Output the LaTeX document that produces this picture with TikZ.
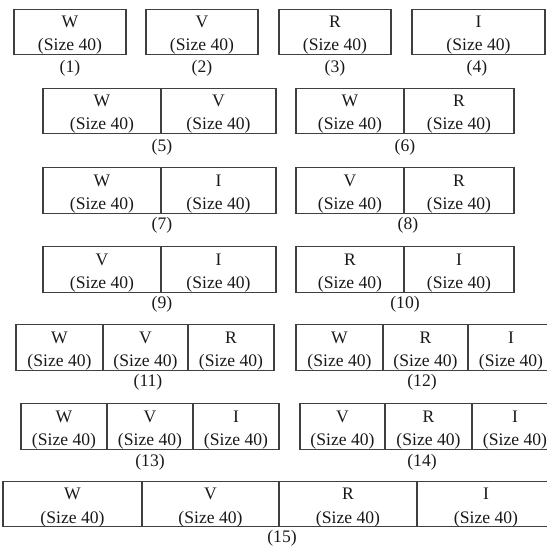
\documentclass[tikz,border=0pt]{standalone}
\usepackage{fontspec}
\setmainfont{Liberation Serif}
\usetikzlibrary{positioning}

\newcommand{\px}{0.75pt}
\newcommand{\blk}[1]{\rule{0pt}{14pt}#1\\(Size 40)}
\tikzset{
  cell/.style={draw=black!75, line width=0.9pt, align=center, inner sep=0pt, outer sep=0pt,
    minimum height=44*\px,
    font=\fontsize{13.2}{17.3}\selectfont, text=black!90},
  lbl/.style={inner sep=0pt, font=\fontsize{13.2}{16.5}\selectfont, text=black!90}
}

\begin{document}
\begin{tikzpicture}[x=\px, y=-\px]
  \useasboundingbox (0,0) rectangle (547,547);
  \clip (0,0) rectangle (547,547);
  % single blocks
  \node[cell, minimum width=112*\px] (c1)  at (70,32)    {\blk{W}};
  \node[cell, minimum width=112*\px] (c2)  at (202,32)   {\blk{V}};
  \node[cell, minimum width=112*\px] (c3)  at (335,32)   {\blk{R}};
  \node[cell, minimum width=133*\px] (c4)  at (478.5,32) {\blk{I}};
  \node[lbl] (l1) at (70,68)  {(1)};
  \node[lbl] (l2) at (202,68) {(2)};
  \node[lbl] (l3) at (335,68) {(3)};
  \node[lbl] (l4) at (477,68) {(4)};

  % pairs
  \node[cell, minimum width=118*\px] (c5a)  at (102,111)   {\blk{W}};
  \node[cell, minimum width=115*\px] (c5b)  at (218.5,111) {\blk{V}};
  \node[cell, minimum width=108*\px] (c6a)  at (350,111)   {\blk{W}};
  \node[cell, minimum width=110*\px] (c6b)  at (459,111)   {\blk{R}};
  \node[lbl] (l5) at (162,147) {(5)};
  \node[lbl] (l6) at (405,147) {(6)};

  \node[cell, minimum width=118*\px] (c7a)  at (102,190.5)   {\blk{W}};
  \node[cell, minimum width=115*\px] (c7b)  at (218.5,190.5) {\blk{I}};
  \node[cell, minimum width=108*\px] (c8a)  at (350,190.5)   {\blk{V}};
  \node[cell, minimum width=110*\px] (c8b)  at (459,190.5)   {\blk{R}};
  \node[lbl] (l7) at (162,225) {(7)};
  \node[lbl] (l8) at (408,225) {(8)};

  \node[cell, minimum width=118*\px] (c9a)  at (102,269.5)   {\blk{V}};
  \node[cell, minimum width=115*\px] (c9b)  at (218.5,269.5) {\blk{I}};
  \node[cell, minimum width=108*\px] (c10a) at (350,269.5)   {\blk{R}};
  \node[cell, minimum width=110*\px] (c10b) at (459,269.5)   {\blk{I}};
  \node[lbl] (l9)  at (162,304) {(9)};
  \node[lbl] (l10) at (405,304) {(10)};

  % triples
  \node[cell, minimum width=87*\px] (c11a) at (59.5,347.5)  {\blk{W}};
  \node[cell, minimum width=85*\px] (c11b) at (145.5,347.5) {\blk{V}};
  \node[cell, minimum width=86*\px] (c11c) at (231,347.5)   {\blk{R}};
  \node[cell, minimum width=87*\px] (c12a) at (339.5,347.5) {\blk{W}};
  \node[cell, minimum width=85*\px] (c12b) at (425.5,347.5) {\blk{R}};
  \node[cell, minimum width=86*\px] (c12c) at (511,347.5)   {\blk{I}};
  \node[lbl] (l11) at (148,382) {(11)};
  \node[lbl] (l12) at (422,382) {(12)};

  \node[cell, minimum width=86*\px] (c13a) at (64,426.5)    {\blk{W}};
  \node[cell, minimum width=86*\px] (c13b) at (150,426.5)   {\blk{V}};
  \node[cell, minimum width=86*\px] (c13c) at (236,426.5)   {\blk{I}};
  \node[cell, minimum width=85*\px] (c14a) at (342.5,426.5) {\blk{V}};
  \node[cell, minimum width=87*\px] (c14b) at (428.5,426.5) {\blk{R}};
  \node[cell, minimum width=86*\px] (c14c) at (515,426.5)   {\blk{I}};
  \node[lbl] (l13) at (150,462) {(13)};
  \node[lbl] (l14) at (422,462) {(14)};

  % all four
  \node[cell, minimum width=139*\px, minimum height=42*\px] (c15a) at (72.5,504)  {\blk{W}};
  \node[cell, minimum width=137*\px, minimum height=42*\px] (c15b) at (210.5,504) {\blk{V}};
  \node[cell, minimum width=138*\px, minimum height=42*\px] (c15c) at (348,504)   {\blk{R}};
  \node[cell, minimum width=138*\px, minimum height=42*\px] (c15d) at (486,504)   {\blk{I}};
  \node[lbl] (l15) at (282,538) {(15)};
\end{tikzpicture}
\end{document}
